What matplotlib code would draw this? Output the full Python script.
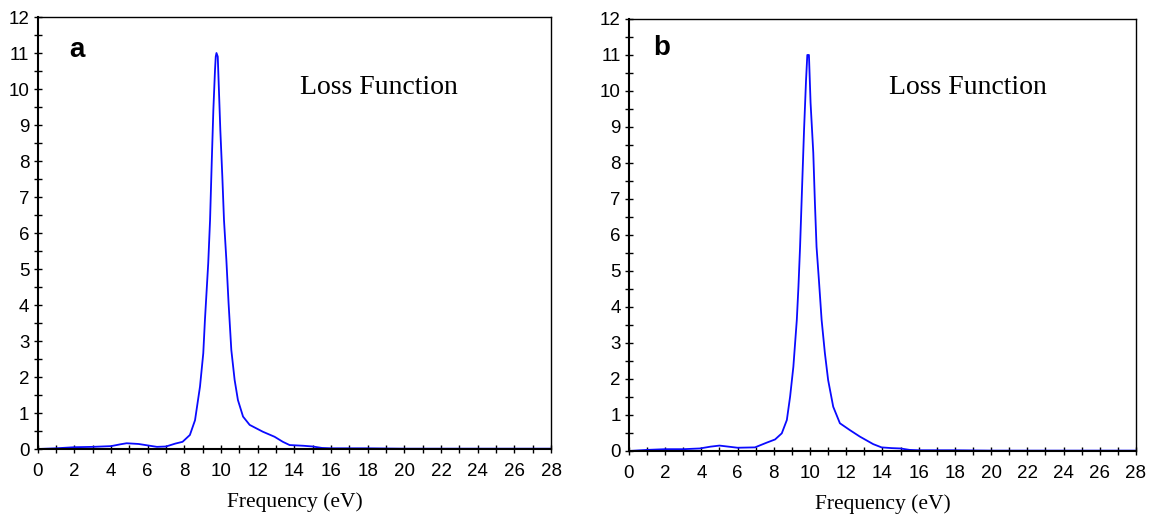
import matplotlib.pyplot as plt
from matplotlib.ticker import MultipleLocator

# panel a: energy loss function
energy_a = [0.0, 1.0, 2.0, 3.0, 4.0, 4.5, 4.85, 5.5, 6.0, 6.5, 7.0, 7.5, 7.9,
            8.3, 8.58, 8.85, 9.03, 9.12, 9.3, 9.4, 9.49, 9.58, 9.67, 9.71,
            9.75, 9.82, 9.87, 9.96, 10.07, 10.16, 10.29, 10.41, 10.56, 10.74,
            10.92, 11.2, 11.56, 12.28, 12.92, 13.37, 13.74, 14.5, 15.0, 15.5,
            16.0, 18.0, 20.0, 24.0, 28.0]
loss_a = [0.0, 0.02, 0.05, 0.06, 0.08, 0.13, 0.16, 0.14, 0.1, 0.06, 0.07, 0.15,
          0.2, 0.39, 0.8, 1.73, 2.66, 3.58, 5.16, 6.36, 7.94, 9.42, 10.53, 10.9,
          11.0, 10.9, 10.17, 8.86, 7.56, 6.36, 5.25, 4.05, 2.75, 1.92,
          1.36, 0.9, 0.67, 0.48, 0.34, 0.2, 0.11, 0.09, 0.07, 0.03,
          0.02, 0.02, 0.01, 0.01, 0.01]

# panel b
energy_b = [0.0, 1.0, 2.0, 3.0, 3.92, 4.5, 5.0, 5.5, 6.0, 6.96, 7.6, 8.07,
            8.44, 8.72, 8.9, 9.08, 9.27, 9.36, 9.45, 9.55, 9.67, 9.78, 9.85,
            9.94, 10.03, 10.18, 10.27, 10.36, 10.49, 10.64, 10.82, 11.0, 11.28,
            11.65, 12.2, 12.75, 13.49, 13.95, 14.5, 15.0, 15.5, 16.0, 18.0,
            20.0, 24.0, 28.0]
loss_b = [0.0, 0.03, 0.05, 0.05, 0.07, 0.12, 0.15, 0.12, 0.09, 0.1, 0.23, 0.32,
          0.49, 0.86, 1.51, 2.34, 3.64, 4.56, 5.67, 7.16, 8.92, 10.3, 11.0,
          11.0, 9.67, 8.28, 6.89, 5.67, 4.75, 3.64, 2.72, 1.97, 1.23,
          0.77, 0.58, 0.4, 0.19, 0.1, 0.08, 0.07, 0.03, 0.02, 0.02,
          0.01, 0.01, 0.01]

panels = [("a", energy_a, loss_a, [0.0327, 0.1315, 0.4448, 0.8356], (1.72, 10.9), (18.6, 10.05)),
          ("b", energy_b, loss_b, [0.545, 0.1277, 0.4394, 0.8356], (1.33, 11.0), (18.7, 10.1))]

fig = plt.figure(figsize=(11.54, 5.17), dpi=100)

for letter, x, y, rect, lpos, tpos in panels:
    ax = fig.add_axes(rect)
    ax.plot(x, y, color="#0a0aff", lw=1.3)
    ax.set_xlim(0, 28)
    ax.set_ylim(0, 12)
    ax.xaxis.set_major_locator(MultipleLocator(2))
    ax.xaxis.set_minor_locator(MultipleLocator(1))
    ax.yaxis.set_major_locator(MultipleLocator(1))
    ax.yaxis.set_minor_locator(MultipleLocator(0.5))
    ax.tick_params(which="both", direction="inout", length=6, width=1,
                   labelsize=13.5, pad=3)
    ax.tick_params(axis="x", which="major", pad=7)
    for lab in ax.get_xticklabels() + ax.get_yticklabels():
        lab.set_fontfamily("Liberation Sans")
    for s in ax.spines.values():
        s.set_linewidth(1)
    ax.spines["left"].set_linewidth(1.5)
    ax.spines["bottom"].set_linewidth(1.5)
    ax.set_xlabel("Frequency (eV)", family="Liberation Serif", fontsize=15.5,
                  labelpad=9)
    ax.text(lpos[0], lpos[1], letter, family="Liberation Sans", weight="bold",
            fontsize=20, va="baseline", ha="left")
    ax.text(tpos[0], tpos[1], "Loss Function", family="Liberation Serif",
            fontsize=20, va="center", ha="center")

fig.savefig("out.png", dpi=100)
